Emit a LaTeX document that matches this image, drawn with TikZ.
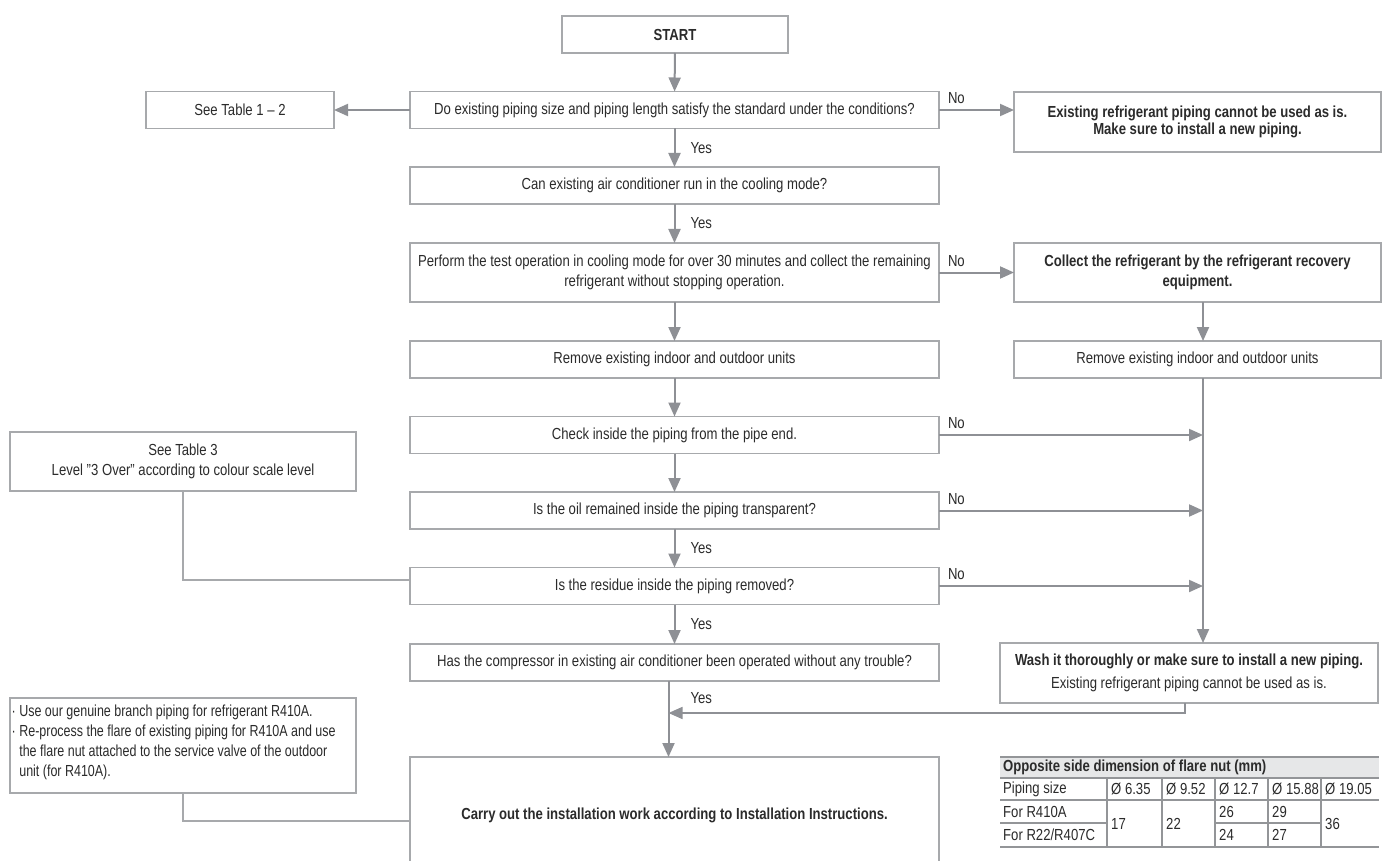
\documentclass[tikz,border=0pt]{standalone}
\usepackage{fontspec}
\setmainfont{Liberation Sans}[FakeStretch=0.82]
\newfontfamily\notefont{Liberation Sans}[FakeStretch=0.78]
\usetikzlibrary{arrows.meta,calc}
\definecolor{boxgray}{HTML}{A7A9AC}
\definecolor{arrgray}{HTML}{8E9095}
\definecolor{txt}{HTML}{2B2B2B}
\definecolor{hdr}{HTML}{E6E7E8}
\definecolor{tline}{HTML}{939598}
\begin{document}
\begin{tikzpicture}[x=1pt,y=-1pt,
  every node/.style={font=\fontsize{16}{20}\selectfont, text=txt},
  fbox/.style={draw=boxgray, line width=1.3pt, fill=white, inner sep=0pt, outer sep=0pt, align=center},
  boldtext/.style={font=\fontsize{16}{17}\selectfont\bfseries},
  qbox/.style={fbox, minimum width=529pt, minimum height=37pt},
  rbox/.style={fbox, minimum width=367pt, minimum height=37pt},
  arr/.style={draw=arrgray, line width=2pt, -{Triangle[length=14pt,width=12pt]}},
  link/.style={draw=boxgray, line width=1.3pt},
  lbl/.style={inner sep=0pt},
  yeslbl/.style={lbl, anchor=west, xshift=15pt},
  nolbl/.style={lbl, pos=0, anchor=south west, xshift=8pt, yshift=5pt},
  cell/.style={inner sep=0pt, anchor=west}
]
\useasboundingbox (0,0) rectangle (1384,861);
\clip (0,0) rectangle (1384,861);
\fill[white] (0,0) rectangle (1384,861);

% main column
\node[fbox, minimum width=226pt, minimum height=37pt, font=\fontsize{16}{20}\selectfont\bfseries] (start) at (675,34.5) {START};
\node[qbox] (q1) at (674.5,110) {Do existing piping size and piping length satisfy the standard under the conditions?};
\node[fbox, minimum width=188pt, minimum height=37pt] (t12) at (240,110) {See Table 1 – 2};
\node[rbox, minimum height=60pt, boldtext] (r1) at (1197.5,122) {Existing refrigerant piping cannot be used as is.\\Make sure to install a new piping.};
\node[qbox] (q2) at (674.5,185.5) {Can existing air conditioner run in the cooling mode?};
\node[qbox, minimum height=59pt] (q3) at (674.5,272.5) {Perform the test operation in cooling mode for over 30 minutes and collect the remaining\\refrigerant without stopping operation.};
\node[rbox, minimum height=59pt, font=\fontsize{16}{20}\selectfont\bfseries] (r2) at (1197.5,272.5) {Collect the refrigerant by the refrigerant recovery\\equipment.};
\node[qbox] (rem1) at (674.5,359.5) {Remove existing indoor and outdoor units};
\node[rbox] (rem2) at (1197.5,359.5) {Remove existing indoor and outdoor units};
\node[qbox] (chk) at (674.5,435) {Check inside the piping from the pipe end.};
\node[fbox, minimum width=346pt, minimum height=59pt] (t3) at (183,461.5) {See Table 3\\Level "3 Over" according to colour scale level};
\node[qbox] (oil) at (674.5,510.5) {Is the oil remained inside the piping transparent?};
\node[qbox] (res) at (674.5,586) {Is the residue inside the piping removed?};
\node[qbox] (comp) at (674.5,662.5) {Has the compressor in existing air conditioner been operated without any trouble?};
\node[fbox, minimum width=378pt, minimum height=60pt, font=\fontsize{16}{23}\selectfont] (wash) at (1189,673) {{\bfseries Wash it thoroughly or make sure to install a new piping.}\\Existing refrigerant piping cannot be used as is.};
\node[fbox, minimum width=346pt, minimum height=95pt] (note) at (183,745.5) {};
\node[anchor=west, align=left, inner sep=0pt, font=\notefont\fontsize{16}{20}\selectfont] (notetxt) at ([xshift=1.5pt,yshift=3pt]note.west) {· Use our genuine branch piping for refrigerant R410A.\\· Re-process the flare of existing piping for R410A and use\\\hphantom{· }the flare nut attached to the service valve of the outdoor\\\hphantom{· }unit (for R410A).};
\node[qbox, minimum height=116pt, font=\fontsize{16}{20}\selectfont\bfseries] (inst) at (674.5,815) {Carry out the installation work according to Installation Instructions.};

\coordinate (vx) at (1203,0);
\coordinate (mrg) at (668.5,713);

% arrows main column
\draw[arr] (start) -- (q1);
\draw[arr] (q1) -- node[yeslbl]{Yes} (q2);
\draw[arr] (q2) -- node[yeslbl]{Yes} (q3);
\draw[arr] (q3) -- (rem1);
\draw[arr] (rem1) -- (chk);
\draw[arr] (chk) -- (oil);
\draw[arr] (oil) -- node[yeslbl]{Yes} (res);
\draw[arr] (res) -- node[yeslbl]{Yes} (comp);
\draw[arr] ([xshift=-6pt]comp.south) -- node[yeslbl, pos=0.23, xshift=6pt]{Yes} ([xshift=-6pt]inst.north);

% side arrows
\draw[arr] (q1) -- (t12);
\draw[arr] (q1.east) -- node[nolbl]{No} (q1.east -| r1.west);
\draw[arr] (q3.east) -- node[nolbl]{No} (r2.west);
\draw[arr] (r2.south -| vx) -- (rem2.north -| vx);
\draw[arr] (rem2.south -| vx) -- (wash.north -| vx);
\draw[arr] (chk.east) -- node[nolbl]{No} (chk.east -| vx);
\draw[arr] (oil.east) -- node[nolbl]{No} (oil.east -| vx);
\draw[arr] (res.east) -- node[nolbl]{No} (res.east -| vx);
\draw[arr, line width=1.6pt] ([xshift=-4pt]wash.south) |- (mrg);

% note links
\draw[link] (t3.south) |- ([yshift=6pt]res.west);
\draw[link] (note.south) |- ([yshift=-6pt]inst.west);

% table
\fill[hdr] (1000,757) rectangle (1379,778);
\draw[tline, line width=1.2pt] (1000,757) -- (1379,757);
\draw[tline, line width=1.2pt] (1000,778) -- (1379,778);
\draw[tline, line width=1.2pt] (1000,800) -- (1379,800);
\draw[tline, line width=1.2pt] (1000,847) -- (1379,847);
\draw[tline, line width=1.2pt] (1000,823) -- (1107,823);
\draw[tline, line width=1.2pt] (1215,823) -- (1321,823);
\foreach \cx in {1107,1162,1215,1268,1321}
  \draw[tline, line width=1.2pt] (\cx,778) -- (\cx,847);
\node[cell, font=\fontsize{16}{20}\selectfont\bfseries] (th) at (1003,767.5) {Opposite side dimension of flare nut (mm)};
\node[cell] (ps) at (1003,789) {Piping size};
\node[cell] (d1) at (1111,789) {Ø 6.35};
\node[cell] (d2) at (1166,789) {Ø 9.52};
\node[cell] (d3) at (1219,789) {Ø 12.7};
\node[cell] (d4) at (1272,789) {Ø 15.88};
\node[cell] (d5) at (1325,789) {Ø 19.05};
\node[cell] (fa) at (1003,811.5) {For R410A};
\node[cell] (fb) at (1003,835) {For R22/R407C};
\node[cell] (v1) at (1111,823.5) {17};
\node[cell] (v2) at (1166,823.5) {22};
\node[cell] (v3a) at (1219,811.5) {26};
\node[cell] (v3b) at (1219,835) {24};
\node[cell] (v4a) at (1272,811.5) {29};
\node[cell] (v4b) at (1272,835) {27};
\node[cell] (v5) at (1325,823.5) {36};
\end{tikzpicture}
\end{document}
